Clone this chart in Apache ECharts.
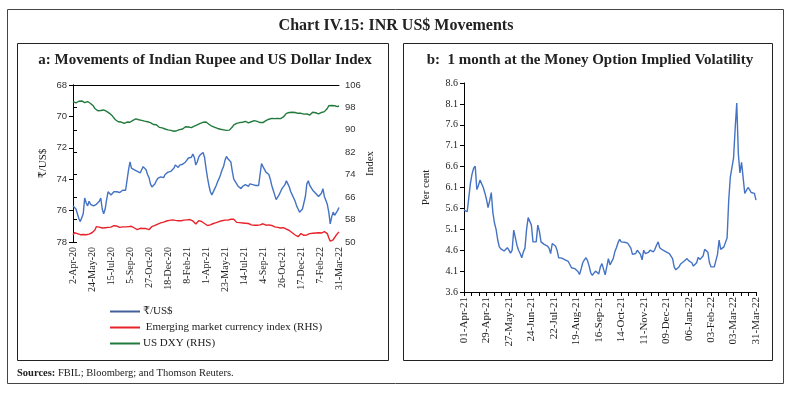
<!DOCTYPE html>
<html><head><meta charset="utf-8">
<script src="https://cdn.jsdelivr.net/npm/echarts@6/dist/echarts.min.js"></script>
<style>html,body{margin:0;padding:0;background:#fff}#c{width:792px;height:393px}</style>
</head><body><div id="c"></div>
<script>
// ---- Panel a: daily series sampled every 4 calendar days from 2-Apr-2020 ----
const startA = '2020-04-02';
const stepA = 4;
const labelsA = ['2-Apr-20','24-May-20','15-Jul-20','5-Sep-20','27-Oct-20','18-Dec-20','8-Feb-21','1-Apr-21','23-May-21','14-Jul-21','4-Sep-21','26-Oct-21','17-Dec-21','7-Feb-22','31-Mar-22'];
const inr = [
75.7,75.6,75.9,76.2,76.5,76.7,76.6,76.2,75.2,75.5,
75.7,75.4,75.6,75.5,75.7,75.8,75.6,75.5,75.4,75.2,
75.9,76.2,75.9,75.3,74.8,74.9,75.0,74.9,74.8,74.9,
74.8,74.9,74.85,74.8,74.7,74.75,74.7,74.8,73.4,72.9,
73.3,73.2,73.4,73.3,73.5,73.4,73.6,73.4,73.2,73.3,
73.4,73.7,73.9,74.3,74.5,74.6,74.3,74.1,73.95,73.9,
73.85,73.8,73.9,73.7,73.6,73.55,73.6,73.5,73.45,73.3,
73.1,73.2,73.25,73.1,73.0,73.05,72.95,72.9,72.8,72.65,
72.7,72.6,72.4,72.6,73.1,72.9,72.6,72.45,72.35,72.3,
72.6,73.3,73.9,74.4,74.8,75.0,74.9,74.6,74.4,74.15,
73.95,73.7,73.4,73.2,72.8,72.55,72.7,72.6,72.9,73.5,
74.0,74.1,74.3,74.45,74.4,74.6,74.45,74.5,74.35,74.4,
74.45,74.3,74.4,74.35,74.45,74.4,74.3,74.4,74.5,73.0,
73.2,73.3,73.55,73.6,73.7,74.0,74.4,74.7,75.0,75.3,
75.3,75.0,74.8,74.6,74.5,74.35,74.1,74.3,74.5,74.8,
75.0,75.1,75.4,75.7,75.9,76.1,76.1,75.9,75.5,75.1,
74.3,74.1,74.4,74.5,74.7,74.8,74.9,74.85,75.1,75.0,
74.9,74.6,75.1,75.2,75.6,76.1,76.85,76.4,76.1,76.3,
76.2,76.0,75.8];
const emIndex = [
52.5,53.3,53.7,53.0,52.8,52.6,52.9,52.7,52.8,52.6,
52.9,52.8,53.0,53.3,53.6,54.3,55.5,56.0,55.3,54.9,
55.0,54.8,55.1,55.0,55.2,55.5,55.3,55.6,55.8,56.0,
55.7,55.4,55.2,55.5,55.4,55.6,55.4,55.2,55.5,55.8,
55.6,55.3,55.0,54.6,54.4,54.6,54.9,54.7,54.8,54.5,
54.8,54.6,54.4,54.7,55.5,56.0,55.9,56.2,56.4,56.7,
56.8,57.0,57.1,57.3,57.5,57.4,57.7,57.6,57.9,57.8,
57.7,57.9,57.6,57.8,57.6,57.5,57.8,57.6,57.9,58.2,
58.0,57.8,57.5,57.1,56.4,57.0,57.6,57.9,57.3,57.0,
56.6,56.2,55.9,55.8,56.1,56.4,56.6,56.8,56.9,57.1,
57.3,57.4,57.6,57.5,57.8,57.9,57.8,58.0,58.1,58.3,
58.1,57.4,57.0,56.8,56.9,56.6,56.8,56.5,56.7,56.4,
56.6,56.3,56.1,56.3,56.0,56.2,56.0,55.8,56.1,56.3,
56.5,56.2,56.0,55.9,56.1,55.8,55.9,55.6,55.4,55.5,
55.2,55.3,55.0,54.9,55.1,54.8,54.6,54.4,54.1,53.7,
53.3,52.8,52.5,52.2,51.9,52.3,53.0,52.6,52.4,52.7,
52.5,52.9,53.0,52.8,53.1,53.0,53.2,53.1,53.3,53.4,
53.2,53.5,53.7,53.6,53.0,51.5,50.3,50.2,50.8,51.4,
52.4,53.0,53.6];
const dxy = [
100.1,99.8,99.6,99.9,100.2,99.9,100.3,100.0,99.7,99.9,
100.1,99.8,99.4,99.1,98.5,97.6,97.1,96.8,96.5,96.9,
97.3,97.1,96.8,96.6,96.4,95.9,95.3,94.9,94.2,93.6,
93.2,92.9,93.1,92.8,92.5,92.3,92.6,92.8,92.5,92.7,
93.1,93.4,93.7,93.9,94.0,93.6,93.2,93.4,92.9,93.1,
92.8,92.9,93.1,92.6,92.3,91.9,91.6,91.8,91.3,90.9,
90.6,90.7,90.4,90.3,90.1,90.0,90.2,89.8,89.6,89.5,
89.4,89.7,89.9,90.1,90.4,90.3,90.7,91.1,90.9,91.0,
91.2,90.8,90.9,91.3,91.6,91.8,92.1,92.3,92.5,92.7,
92.9,92.8,92.4,92.0,91.6,91.3,91.1,90.9,90.6,90.5,
90.3,90.2,90.1,90.0,89.9,89.8,90.0,89.9,90.1,91.0,
91.8,92.1,92.3,92.2,92.6,92.9,92.7,92.9,93.0,92.6,
92.5,92.7,92.9,93.1,93.3,93.2,93.0,92.8,92.6,92.4,
92.6,93.0,93.3,93.6,93.8,93.9,94.1,94.2,94.0,94.2,
94.1,93.9,94.0,94.2,94.6,95.2,95.9,96.0,96.2,96.4,
96.3,96.1,96.2,96.0,95.9,96.1,95.9,96.0,95.6,95.5,
95.7,95.5,95.3,95.7,96.3,97.0,96.1,95.9,95.7,96.0,
96.2,96.1,96.5,96.9,97.6,98.6,98.9,98.7,98.8,98.6,
98.5,98.3,98.5];

// ---- Panel b: sampled every 2 calendar days from 01-Apr-2021 ----
const startB = '2021-04-01';
const stepB = 2;
const labelsB = ['01-Apr-21','29-Apr-21','27-May-21','24-Jun-21','22-Jul-21','19-Aug-21','16-Sep-21','14-Oct-21','11-Nov-21','09-Dec-21','06-Jan-22','03-Feb-22','03-Mar-22','31-Mar-22'];
const vol = [
5.56,5.54,5.52,5.49,6.2,6.42,6.56,6.61,6.05,6.15,
6.28,6.3,6.1,5.97,5.82,5.62,5.78,5.98,5.5,5.25,
5.1,4.85,4.68,4.63,4.61,4.58,4.55,4.66,4.6,4.53,
4.6,5.08,4.9,4.72,4.6,4.52,4.42,4.56,4.65,5.1,
5.38,5.4,5.2,4.8,4.79,4.8,5.2,5.05,4.8,4.78,
4.74,4.72,4.7,4.65,4.52,4.76,4.78,4.7,4.6,4.42,
4.4,4.41,4.38,4.37,4.35,4.33,4.3,4.18,4.17,4.16,
4.12,4.09,4.02,4.15,4.3,4.37,4.42,4.35,4.22,4.06,
4.0,4.05,4.1,4.1,4.03,4.2,4.28,4.25,4.01,4.04,
4.4,4.25,4.22,4.4,4.56,4.66,4.78,4.86,4.8,4.8,
4.79,4.78,4.77,4.74,4.65,4.5,4.5,4.52,4.6,4.58,
4.5,4.37,4.6,4.52,4.49,4.55,4.6,4.58,4.56,4.62,
4.72,4.8,4.66,4.62,4.6,4.58,4.56,4.56,4.52,4.5,
4.4,4.2,4.13,4.15,4.2,4.27,4.3,4.33,4.37,4.4,
4.35,4.33,4.3,4.22,4.2,4.3,4.43,4.38,4.4,4.46,
4.62,4.66,4.55,4.3,4.2,4.19,4.2,4.22,4.5,4.84,
4.62,4.65,4.68,4.68,4.9,5.8,6.35,6.36,6.8,7.5,
8.12,6.9,6.45,6.7,6.7,5.96,5.96,6.1,6.05,5.98,
5.97,5.96,5.8];

const toPairs = (arr, step) => arr.map((v, i) => [i * step, v]);

const serif = "'Liberation Serif', 'DejaVu Serif', 'Noto Sans', serif";
const sans = "'Liberation Sans', 'DejaVu Sans', sans-serif";
const blue = '#4472C4', red = '#E8232B', green = '#217A3C';

const chart = echarts.init(document.getElementById('c'), null, {renderer: 'canvas'});
const option = {
  backgroundColor: '#fff',
  animation: false,
  grid: [
    {left: 73, top: 85, width: 266, height: 157},
    {left: 464, top: 83, width: 292, height: 209}
  ],
  legend: {
    orient: 'vertical', left: 105, top: 301, itemWidth: 30, itemHeight: 2, itemGap: 5,
    icon: 'rect',
    textStyle: {fontFamily: serif, fontSize: 11, color: '#222', padding: [0, 0, 0, -2]},
    data: ['₹/US$', ' Emerging market currency index (RHS)', 'US DXY (RHS)']
  },
  xAxis: [
    {type: 'value', gridIndex: 0, position: 'bottom', min: 0, max: 728, interval: 52,
     axisLine: {show: false}, axisTick: {show: false}, splitLine: {show: false},
     axisLabel: {rotate: 90, margin: 5, fontFamily: serif, fontSize: 10, color: '#222',
       formatter: v => labelsA[Math.round(v / 52)]}},
    {type: 'value', gridIndex: 0, position: 'top', min: 0, max: 728,
     axisLine: {show: true, onZero: false, lineStyle: {color: '#000', width: 1}},
     axisTick: {show: false}, axisLabel: {show: false}, splitLine: {show: false}},
    {type: 'value', gridIndex: 1, min: 0, max: 364, interval: 28,
     axisLine: {onZero: false, lineStyle: {color: '#000', width: 1}},
     axisTick: {show: true, length: 4, lineStyle: {color: '#000'}},
     minorTick: {show: true, splitNumber: 3, length: 4, lineStyle: {color: '#000'}},
     splitLine: {show: false}, minorSplitLine: {show: false},
     axisLabel: {rotate: 90, margin: 5, fontFamily: serif, fontSize: 11, color: '#222',
       formatter: v => labelsB[Math.round(v / 28)]}}
  ],
  yAxis: [
    {type: 'value', gridIndex: 0, min: 68, max: 78, interval: 2, inverse: true,
     name: '₹/US$', nameLocation: 'middle', nameGap: 24, nameRotate: 90,
     nameTextStyle: {fontFamily: serif, fontSize: 11, color: '#222'},
     axisLine: {show: true, lineStyle: {color: '#000'}},
     axisTick: {show: true, length: 4, lineStyle: {color: '#000'}},
     axisLabel: {fontFamily: sans, fontSize: 9.5, color: '#333', margin: 6},
     splitLine: {show: false}},
    {type: 'value', gridIndex: 0, position: 'right', min: 50, max: 106, interval: 8,
     name: 'Index', nameLocation: 'middle', nameGap: 26, nameRotate: 90,
     nameTextStyle: {fontFamily: serif, fontSize: 11, color: '#222'},
     axisLine: {show: true, lineStyle: {color: '#000'}},
     axisTick: {show: true, length: 4, lineStyle: {color: '#000'}},
     axisLabel: {fontFamily: sans, fontSize: 9.5, color: '#333', margin: 6},
     splitLine: {show: false}},
    {type: 'value', gridIndex: 1, min: 3.6, max: 8.6, interval: 0.5,
     name: 'Per cent', nameLocation: 'middle', nameGap: 32, nameRotate: 90,
     nameTextStyle: {fontFamily: serif, fontSize: 11, color: '#222'},
     axisLine: {show: true, lineStyle: {color: '#000'}},
     axisTick: {show: true, length: 4, lineStyle: {color: '#000'}},
     axisLabel: {fontFamily: serif, fontSize: 10, color: '#222', margin: 6,
       formatter: v => v.toFixed(1)},
     splitLine: {show: false}}
  ],
  series: [
    {name: '₹/US$', type: 'line', xAxisIndex: 0, yAxisIndex: 0, data: toPairs(inr, stepA),
     showSymbol: false, lineStyle: {color: blue, width: 1.4}, itemStyle: {color: '#44609A'}},
    {name: ' Emerging market currency index (RHS)', type: 'line', xAxisIndex: 0, yAxisIndex: 1,
     data: toPairs(emIndex, stepA), showSymbol: false, lineStyle: {color: red, width: 1.4}, itemStyle: {color: red}},
    {name: 'US DXY (RHS)', type: 'line', xAxisIndex: 0, yAxisIndex: 1, data: toPairs(dxy, stepA),
     showSymbol: false, lineStyle: {color: green, width: 1.4}, itemStyle: {color: green}},
    {name: 'Implied volatility', type: 'line', xAxisIndex: 2, yAxisIndex: 2, data: toPairs(vol, stepB),
     showSymbol: false, lineStyle: {color: blue, width: 1.4}, itemStyle: {color: blue}}
  ],
  graphic: [
    {type: 'rect', shape: {x: 7.5, y: 9.5, width: 776, height: 374}, style: {fill: null, stroke: '#444', lineWidth: 1}, silent: true},
    {type: 'rect', shape: {x: 17.5, y: 43.5, width: 371, height: 317}, style: {fill: null, stroke: '#222', lineWidth: 1}, silent: true},
    {type: 'rect', shape: {x: 403.5, y: 43.5, width: 369, height: 317}, style: {fill: null, stroke: '#222', lineWidth: 1}, silent: true},
    {type: 'text', x: 396, y: 26, style: {text: 'Chart IV.15: INR US$ Movements', font: "bold 16px 'Liberation Serif', serif", fill: '#222', textAlign: 'center', textVerticalAlign: 'middle'}},
    {type: 'text', x: 205, y: 60, style: {text: 'a: Movements of Indian Rupee and US Dollar Index', font: "bold 15px 'Liberation Serif', serif", fill: '#222', textAlign: 'center', textVerticalAlign: 'middle'}},
    {type: 'text', x: 590, y: 60, style: {text: 'b:  1 month at the Money Option Implied Volatility', font: "bold 15px 'Liberation Serif', serif", fill: '#222', textAlign: 'center', textVerticalAlign: 'middle'}},
    {type: 'text', x: 17, y: 373, style: {text: '{b|Sources:} FBIL; Bloomberg; and Thomson Reuters.', rich: {b: {fontWeight: 'bold', fontFamily: serif, fontSize: 10.5}}, fontFamily: serif, fontSize: 10.5, fill: '#222', textVerticalAlign: 'middle'}}
  ]
};
chart.setOption(option);
</script></body></html>
